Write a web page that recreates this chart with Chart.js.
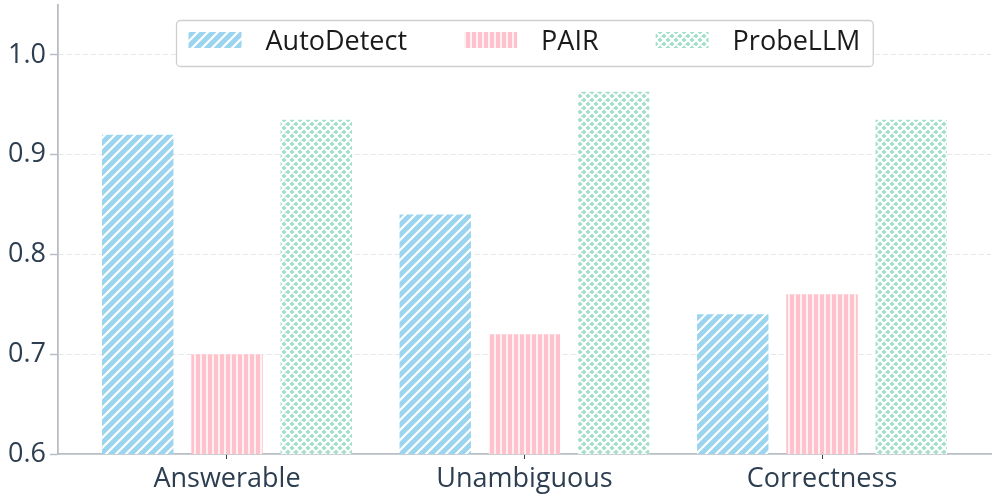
<!DOCTYPE html>
<html>
<head>
<meta charset="utf-8">
<script src="https://cdn.jsdelivr.net/npm/chart.js@4.4.0/dist/chart.umd.min.js"></script>
<style>
html, body { margin: 0; padding: 0; background: #fff; }
#wrap { width: 997px; height: 497px; }
</style>
</head>
<body>
<div id="wrap"><canvas id="chart"></canvas></div>
<script>
var categories = ["Answerable", "Unambiguous", "Correctness"];
var seriesNames = ["AutoDetect", "PAIR", "ProbeLLM"];
var autoDetect = [0.92, 0.84, 0.74];
var pair = [0.70, 0.72, 0.76];
var probeLLM = [0.935, 0.963, 0.935];
var yTicks = [0.6, 0.7, 0.8, 0.9, 1.0];

var FONT = "'Open Sans', 'Noto Sans', sans-serif";

// hatch patterns like matplotlib's '//', '||' and 'xx'
function makePattern(bg, kind) {
	var s = kind == "vert" ? 6 : (kind == "diag" ? 10 : 8);
	var c = document.createElement("canvas");
	c.width = s; c.height = s;
	var g = c.getContext("2d");
	g.fillStyle = bg;
	g.fillRect(0, 0, s, s);
	g.strokeStyle = "#ffffff";
	g.lineCap = "square";
	g.beginPath();
	if (kind == "vert") {
		g.lineWidth = 1.5;
		g.moveTo(3, -1); g.lineTo(3, s + 1);
	} else {
		g.lineWidth = kind == "diag" ? 2.2 : 2;
		g.moveTo(0, s); g.lineTo(s, 0);
		g.moveTo(-s / 2, s / 2); g.lineTo(s / 2, -s / 2);
		g.moveTo(s / 2, s * 1.5); g.lineTo(s * 1.5, s / 2);
		if (kind == "cross") {
			g.moveTo(0, 0); g.lineTo(s, s);
			g.moveTo(-s / 2, s / 2); g.lineTo(s / 2, s * 1.5);
			g.moveTo(s / 2, -s / 2); g.lineTo(s * 1.5, s / 2);
		}
	}
	g.stroke();
	return g.createPattern(c, "repeat");
}

var fills = [
	makePattern("#9bd4ef", "diag"),
	makePattern("#ffc2cc", "vert"),
	makePattern("#a5dfca", "cross")
];

function points(arr) {
	var out = [];
	for (var i = 0; i < arr.length; i++) {
		out.push({ x: i, y: arr[i] });
	}
	return out;
}

var boxLegend = {
	id: "boxLegend",
	afterDraw: function(chart) {
		var ctx = chart.ctx;
		var area = chart.chartArea;
		var sw = 53, sh = 16, padL = 12, padR = 13, gapText = 24, gapItem = 57;
		ctx.save();
		ctx.font = "27px " + FONT;
		var widths = [];
		var total = padL + padR;
		chart.data.datasets.forEach(function(ds, i) {
			var w = ctx.measureText(ds.label).width;
			widths.push(w);
			total += sw + gapText + w + (i > 0 ? gapItem : 0);
		});
		var cx = (area.left + area.right) / 2;
		var x0 = Math.round(cx - total / 2) + 0.5;
		var y0 = 20.5, h = 46;
		ctx.beginPath();
		ctx.roundRect(x0, y0, total, h, 4);
		ctx.fillStyle = "rgba(255,255,255,0.9)";
		ctx.fill();
		ctx.strokeStyle = "#cfcfcf";
		ctx.lineWidth = 1.3;
		ctx.stroke();
		var x = x0 + padL;
		chart.data.datasets.forEach(function(ds, i) {
			ctx.fillStyle = ds.backgroundColor;
			ctx.fillRect(x, 32, sw, sh);
			x += sw + gapText;
			ctx.fillStyle = "#1a1a1a";
			ctx.textBaseline = "middle";
			ctx.textAlign = "left";
			ctx.fillText(ds.label, x, 42);
			x += widths[i] + gapItem;
		});
		ctx.restore();
	}
};

var ctx = document.getElementById("chart");

var data = {
	datasets: [
		{ label: seriesNames[0], data: points(autoDetect), backgroundColor: fills[0] },
		{ label: seriesNames[1], data: points(pair), backgroundColor: fills[1] },
		{ label: seriesNames[2], data: points(probeLLM), backgroundColor: fills[2] }
	]
};

var options = {
	responsive: true,
	maintainAspectRatio: false,
	animation: false,
	layout: { padding: { left: 0, right: 6, top: 5, bottom: 0 } },
	categoryPercentage: 0.9,
	barPercentage: 0.8,
	plugins: {
		legend: { display: false },
		tooltip: { enabled: false }
	},
	scales: {
		x: {
			type: "linear",
			offset: false,
			min: -0.568,
			max: 2.568,
			afterFit: function(scale) {
				scale.height = 43;
				scale.paddingLeft = 0;
				scale.paddingRight = 0;
			},
			afterBuildTicks: function(scale) {
				scale.ticks = categories.map(function(c, i) { return { value: i }; });
			},
			ticks: {
				autoSkip: false,
				maxRotation: 0,
				padding: 4,
				color: "#2c3e50",
				font: { family: FONT, size: 27, weight: 500 },
				callback: function(v) { return categories[v]; }
			},
			grid: {
				offset: false,
				drawOnChartArea: false,
				drawTicks: true,
				tickLength: 5,
				tickColor: "#2c3e50",
				tickWidth: 1
			},
			border: { color: "#b8bec5", width: 1.8 }
		},
		y: {
			min: yTicks[0],
			max: 1.05,
			afterFit: function(scale) {
				scale.width = 58;
				scale.paddingTop = 0;
				scale.paddingBottom = 0;
			},
			afterBuildTicks: function(scale) {
				scale.ticks = yTicks.map(function(v) { return { value: v }; });
			},
			ticks: {
				padding: 4,
				color: "#2c3e50",
				font: { family: FONT, size: 27, weight: 500 },
				callback: function(v) { return v.toFixed(1); }
			},
			grid: {
				color: function(c) { return c.tick && c.tick.value > 0.65 ? "#e6e6e6" : "rgba(0,0,0,0)"; },
				lineWidth: 1,
				drawTicks: true,
				tickLength: 8,
				tickColor: "#b8bec5",
				tickWidth: 1.5
			},
			border: { color: "#b8bec5", width: 1.8, dash: [5, 3] }
		}
	}
};

var chart = new Chart(ctx, {
	type: "bar",
	data: data,
	options: options,
	plugins: [boxLegend]
});
</script>
</body>
</html>
